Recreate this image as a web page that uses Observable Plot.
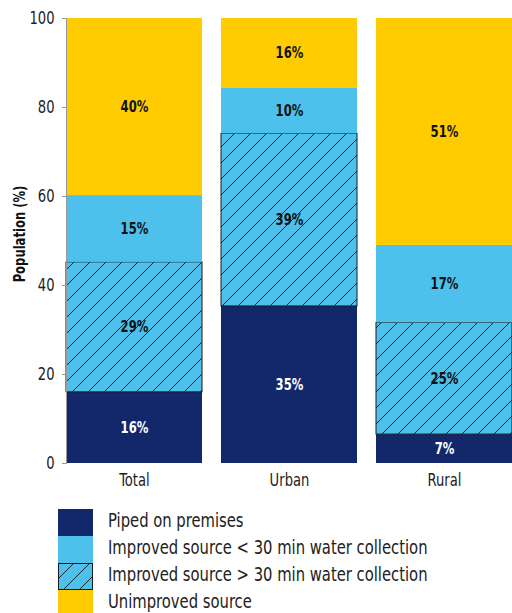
<!DOCTYPE html>
<html>
<head>
<meta charset="utf-8">
<script src="https://cdn.jsdelivr.net/npm/d3@7"></script>
<script src="https://cdn.jsdelivr.net/npm/@observablehq/plot@0.6"></script>
<style>
  body { margin: 0; background: #fff; font-family: 'Liberation Sans Narrow', 'DejaVu Sans Condensed', 'Roboto', sans-serif; }
  #chart svg { display: block; }
  .legend { margin-left: 58px; margin-top: 14px; }
  .legend .row { display: flex; align-items: center; height: 27px; }
  .legend svg { display: block; flex: none; }
  .legend span { margin-left: 15px; font-size: 19px; color: #222; line-height: 27px; position: relative; top: -2px;
                 display: inline-block; white-space: nowrap; transform: scaleX(0.865); transform-origin: left center; }
</style>
</head>
<body>
<div id="chart"></div>
<div class="legend" id="legend"></div>
<script>
const categories = ["Total", "Urban", "Rural"];
// stack order, bottom to top
const seriesNames = [
  "Piped on premises",
  "Improved source > 30 min water collection",
  "Improved source < 30 min water collection",
  "Unimproved source"
];
const piped      = [16.0, 35.3, 6.5];
const over30     = [29.2, 38.8, 25.1];
const under30    = [15.0, 10.3, 17.4];
const unimproved = [39.8, 15.6, 51.0];
const seriesValues = [piped, over30, under30, unimproved];
const seriesFills = ["#13276b", "url(#hatch)", "#4dc0eb", "#fecc00"];
const labelColors = ["#ffffff", "#111111", "#111111", "#111111"];
const legendOrder = [
  "Piped on premises",
  "Improved source < 30 min water collection",
  "Improved source > 30 min water collection",
  "Unimproved source"
];
const yTicks = [0, 20, 40, 60, 80, 100];
const yLabel = "Population (%)";

const rows = [];
seriesNames.forEach((s, i) => {
  categories.forEach((c, j) => rows.push({cat: c, series: s, si: i, value: seriesValues[i][j]}));
});

const font = "'Liberation Sans Narrow', 'DejaVu Sans Condensed', sans-serif";

const plot = Plot.plot({
  width: 512,
  height: 495,
  marginLeft: 66,
  marginTop: 18,
  marginBottom: 32,
  marginRight: 0,
  style: {fontFamily: font, color: "#222", background: "#fff"},
  x: {domain: categories, range: [66, 512], paddingInner: 0.125, paddingOuter: 0},
  y: {domain: [0, 100]},
  marks: [
    Plot.barY(rows, Plot.stackY({
      x: "cat", y: "value",
      fill: d => seriesFills[d.si],
      stroke: d => d.si === 1 ? "#1a1a1a" : "none",
      strokeWidth: 1
    })),
    Plot.text(rows, Plot.stackY({
      x: "cat", y: "value",
      text: d => Math.round(d.value) + "%",
      fill: d => labelColors[d.si],
      fontSize: 15, fontWeight: "bold"
    })),
    Plot.axisY({ticks: yTicks, tickSize: 4, tickPadding: 8, stroke: "#999", fontSize: 17, label: null}),
    Plot.axisX({tickSize: 0, tickPadding: 10, fontSize: 17, label: null}),
    Plot.frame({anchor: "left", stroke: "#999"}),
    Plot.text([yLabel], {frameAnchor: "left", textAnchor: "middle", dx: -46, dy: -7, rotate: -90, fontSize: 15, fontWeight: "bold", fill: "#111"})
  ]
});

// narrow the text to mimic the condensed face of the original
plot.querySelectorAll("text").forEach(t => {
  const tr = t.getAttribute("transform");
  if (tr) t.setAttribute("transform", tr + " scale(0.86,1)");
});

const defs = document.createElementNS("http://www.w3.org/2000/svg", "defs");
defs.innerHTML = `<pattern id="hatch" patternUnits="userSpaceOnUse" width="16" height="16">
  <rect width="16" height="16" fill="#4dc0eb"/>
  <path d="M0,16 L16,0 M-4,4 L4,-4 M12,20 L20,12" stroke="#111" stroke-width="0.9"/>
</pattern>`;
plot.insertBefore(defs, plot.firstChild);
document.getElementById("chart").appendChild(plot);

const legend = document.getElementById("legend");
legendOrder.forEach(name => {
  const i = seriesNames.indexOf(name);
  const row = document.createElement("div");
  row.className = "row";
  const stroke = i === 1 ? ' stroke="#1a1a1a" stroke-width="1"' : '';
  row.innerHTML = `<svg width="35" height="27"><rect x="${i===1?0.5:0}" y="${i===1?0.5:0}" width="${i===1?34:35}" height="${i===1?26:27}" fill="${seriesFills[i]}"${stroke}/></svg><span>${name.replace(/</g,"&lt;").replace(/>/g,"&gt;")}</span>`;
  legend.appendChild(row);
});
</script>
</body>
</html>
